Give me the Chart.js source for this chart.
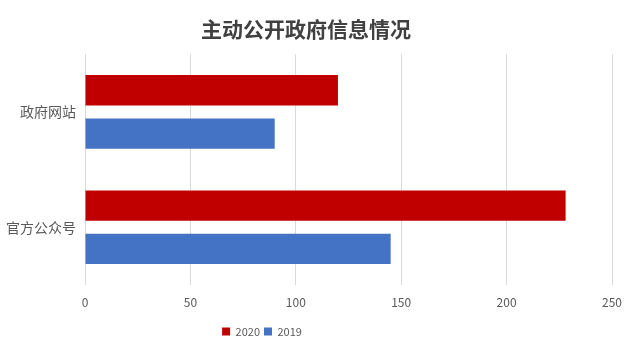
<!DOCTYPE html>
<html>
<head>
<meta charset="utf-8">
<script src="https://cdn.jsdelivr.net/npm/chart.js@4"></script>
<style>
  html, body { margin: 0; padding: 0; background: #fff; }
  #wrap { width: 626px; height: 347px; }
</style>
</head>
<body>
<div id="wrap"><canvas id="myChart"></canvas></div>
<script>
const categories = ["政府网站", "官方公众号"];
const values2020 = [120, 228];
const values2019 = [90, 145];
const seriesNames = ["2020", "2019"];

const canvasChart = document.getElementById("myChart");
const fontFamily = "'Noto Sans CJK SC', 'Noto Sans', sans-serif";

// the legend sits a bit left of the centre in the original
const shiftLegend = {
  id: "shiftLegend",
  afterLayout(chart) {
    chart.legend.left -= 44;
    chart.legend.right -= 44;
  },
};

const myChart = new Chart(canvasChart, {
  type: "bar",
  data: {
    labels: categories,
    datasets: [
      {
        label: seriesNames[0],
        data: values2020,
        backgroundColor: "#C00000",
        barPercentage: 0.7,
        categoryPercentage: 0.75,
      },
      {
        label: seriesNames[1],
        data: values2019,
        backgroundColor: "#4472C4",
        barPercentage: 0.7,
        categoryPercentage: 0.75,
      },
    ],
  },
  options: {
    indexAxis: "y",
    responsive: true,
    maintainAspectRatio: false,
    animation: false,
    layout: { padding: { left: 0, right: 14, top: 0, bottom: 0 } },
    plugins: {
      title: {
        display: true,
        text: "主动公开政府信息情况",
        color: "#404040",
        font: { family: fontFamily, size: 21, weight: "bold" },
        padding: { top: 16, bottom: 13 },
      },
      legend: {
        position: "bottom",
        labels: {
          boxWidth: 8,
          boxHeight: 8,
          color: "#595959",
          font: { family: fontFamily, size: 11 },
          padding: 4,
        },
      },
      tooltip: { enabled: false },
    },
    scales: {
      x: {
        min: 0,
        max: 250,
        ticks: {
          stepSize: 50,
          color: "#595959",
          font: { family: fontFamily, size: 12 },
          padding: 10,
        },
        grid: { color: "#D9D9D9", drawTicks: false },
        border: { display: false },
        afterFit: (scale) => {
          scale.height = 37;
          scale.paddingLeft = 0;
          scale.paddingRight = 0;
        },
      },
      y: {
        ticks: {
          color: "#595959",
          font: { family: fontFamily, size: 14 },
          padding: 9,
        },
        grid: { display: false, drawTicks: false },
        border: { display: false },
        afterFit: (scale) => { scale.width = 85; },
      },
    },
  },
  plugins: [shiftLegend],
});
</script>
</body>
</html>
